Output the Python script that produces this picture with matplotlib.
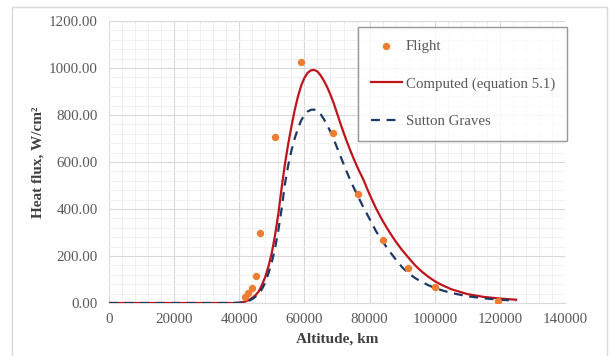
import matplotlib
matplotlib.use("Agg")
import matplotlib.pyplot as plt
from matplotlib.ticker import MultipleLocator, FuncFormatter
from matplotlib.patches import Rectangle

# Flight data
flight_alt = [41800, 42800, 44000, 45100, 46400, 50900, 58800, 68700, 76550, 84000, 91900, 100100, 119500]
flight_q = [27, 41, 65, 113, 298, 705, 1027, 722, 463, 270, 147, 69, 10]

# Altitude samples for the computed curves
curve_alt = [0, 20000, 38000, 40000, 41000, 42000, 43000, 44000, 45000, 46000, 47000, 48000,
             49000, 50000, 51000, 52000, 53000, 54000, 55000, 56000, 57000, 58000, 59000,
             60000, 61000, 62000, 63000, 64000, 65000, 66000, 67000, 68000, 69000, 70000,
             71000, 72000, 73000, 74000, 75000, 76000, 77000, 78000, 80000, 82000, 84000,
             86000, 88000, 90000, 92000, 94000, 96000, 98000, 100000, 102000, 105000,
             110000, 115000, 120000, 125000]

# Computed (equation 5.1)
comp_q = [0, 0, 0, 1, 3, 7, 13, 22, 33, 50, 78, 112,
          158, 215, 290, 380, 490, 590, 675, 750, 820, 878, 925,
          958, 980, 990, 992, 985, 968, 945, 918, 886, 850, 808,
          766, 726, 688, 652, 618, 586, 556, 528, 462, 402, 350,
          304, 262, 225, 192, 160, 134, 112, 93, 78, 59,
          38, 26, 19, 14]

# Sutton Graves
sg_q = [0, 0, 0, 1, 2, 5, 10, 17, 27, 40, 60, 88,
        128, 175, 235, 310, 400, 505, 585, 648, 700, 742, 777,
        800, 815, 822, 823, 818, 803, 782, 757, 728, 696, 662,
        627, 592, 558, 525, 495, 466, 438, 410, 358, 305, 262,
        222, 186, 152, 126, 106, 90, 76, 64, 55, 43,
        29, 20, 14, 10]

plt.rcParams['font.family'] = ['Liberation Serif', 'DejaVu Serif']

fig = plt.figure(figsize=(6.12, 3.56), dpi=100)
ax = fig.add_axes([109/612, 1-303/356, (565-109)/612, (303-21)/356])

# outer border
fig.patches.append(Rectangle((12/612, -0.05), (607-12)/612, (356-7)/356 + 0.05,
                             transform=fig.transFigure, fill=False,
                             edgecolor='#D9D9D9', linewidth=1.0))

ax.set_xlim(0, 140000)
ax.set_ylim(0, 1200)
ax.xaxis.set_major_locator(MultipleLocator(20000))
ax.xaxis.set_minor_locator(MultipleLocator(4000))
ax.yaxis.set_major_locator(MultipleLocator(200))
ax.yaxis.set_minor_locator(MultipleLocator(40))
ax.yaxis.set_major_formatter(FuncFormatter(lambda v, p: f"{v:.2f}"))
ax.grid(which='major', color='#D9D9D9', linewidth=0.8)
ax.grid(which='minor', color='#F0F0F0', linewidth=0.7)
ax.set_axisbelow(True)
for s in ['top', 'right', 'left']:
    ax.spines[s].set_visible(False)
ax.spines['bottom'].set_color('#D9D9D9')
ax.tick_params(which='both', length=0, labelsize=10.8, labelcolor='#595959')
ax.tick_params(axis='x', pad=7)
ax.tick_params(axis='y', pad=8)

ax.plot(curve_alt, comp_q, color='#C0141C', linewidth=1.6, label='Computed (equation 5.1)', zorder=3)
ax.plot(curve_alt, sg_q, color='#1F3864', linewidth=1.6, linestyle=(0, (4, 3)), label='Sutton Graves', zorder=4)
ax.scatter(flight_alt, flight_q, s=28, color='#ED7D31', label='Flight', zorder=5, linewidths=0)

ax.set_xlabel('Altitude, km', fontsize=11, fontweight='bold', color='#404040', labelpad=5)
ax.set_ylabel('Heat flux, W/cm²', fontsize=11, fontweight='bold', color='#404040', labelpad=3)

h, l = ax.get_legend_handles_labels()
order = [2, 0, 1]
leg = ax.legend([h[i] for i in order], [l[i] for i in order],
                loc='upper left', bbox_to_anchor=((358-109)/456, 1-(27-21)/282),
                frameon=True, fancybox=False, edgecolor='#7F7F7F', fontsize=10.7,
                labelspacing=1.62, handlelength=2.1, borderpad=0.85, handletextpad=0.25,
                borderaxespad=0)
leg.get_frame().set_linewidth(1.0)
for t in leg.get_texts():
    t.set_color('#595959')

fig.savefig('out.png', dpi=100)
